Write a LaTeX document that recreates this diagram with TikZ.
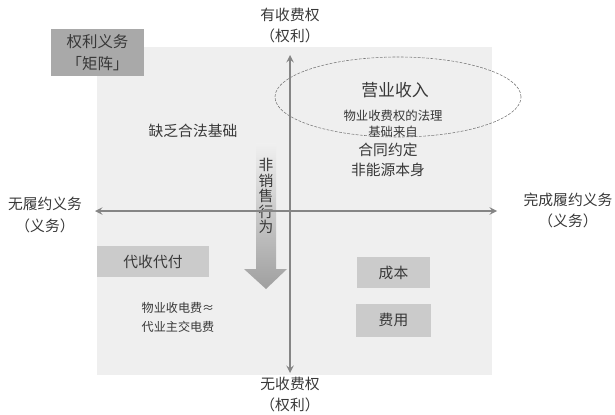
\documentclass[tikz,border=0pt]{standalone}
\usepackage{fontspec}
\newfontfamily\cjk{Noto Sans CJK SC}
\usetikzlibrary{arrows, shapes.geometric, positioning}
\definecolor{panelgray}{HTML}{EFEFEF}
\definecolor{axisgray}{HTML}{858585}
\definecolor{textgray}{HTML}{383838}
\definecolor{darkbox}{HTML}{A9A9A9}
\definecolor{lightbox}{HTML}{CBCBCB}

\begin{document}
\begin{tikzpicture}[x=0.025cm, y=-0.025cm,
    lbl/.style={font=\cjk\fontsize{10.5}{15}\selectfont, text=textgray, align=center, inner sep=0pt},
    small/.style={font=\cjk\fontsize{8.7}{11.5}\selectfont, text=textgray, align=center, inner sep=0pt},
    block/.style={rectangle, fill=lightbox, text=textgray, font=\cjk\fontsize{10.5}{15}\selectfont, align=center, inner sep=0pt},
    axis/.style={draw=axisgray, line width=1.3pt, <->, >=stealth}]
    \useasboundingbox (0,0) rectangle (615,414);
    \fill[panelgray] (97,47) rectangle (492,375);

    % direction arrow behind the vertical text
    \shade[top color=gray!12, bottom color=gray!75]
        (256,143) -- (276,143) -- (276,269) -- (287,269) -- (266,289) -- (244,269) -- (256,269) -- cycle;
    \node [lbl, font=\cjk\fontsize{10.5}{11}\selectfont] (nonsale) at (266,196) {非\\销\\售\\行\\为};

    \node [ellipse, draw=axisgray!90!black, dash pattern=on 2pt off 1pt, minimum width=6.15cm, minimum height=2cm] (revenue) at (398,97) {};

    % axes
    \coordinate (ytop) at (290,55);
    \coordinate (ybot) at (290,373);
    \coordinate (xleft) at (95,211);
    \coordinate (xright) at (497,211);
    \draw [axis] (ybot) -- (ytop);
    \draw [axis] (xleft) -- (xright);

    \node [lbl, above=0.3cm of ytop] (toplbl) {有收费权\\（权利）};
    \node [lbl, below=0.1cm of ybot] (botlbl) {无收费权\\（权利）};
    \node [lbl] (leftlbl) at (45,215) {无履约义务\\（义务）};
    \node [lbl] (rightlbl) at (568,210) {完成履约义务\\（义务）};

    \node [block, fill=darkbox, font=\cjk\fontsize{11}{15.5}\selectfont, minimum width=2.33cm, minimum height=1.18cm] (matrix) at (97.5,52.5) {权利义务\\「矩阵」};

    \node [lbl, font=\cjk\fontsize{12}{15}\selectfont] (income) at (395,90) {营业收入};
    \node [small, font=\cjk\fontsize{8.8}{11}\selectfont] (basis) at (393,124) {物业收费权的法理\\基础来自};
    \node [lbl, font=\cjk\fontsize{10.5}{14}\selectfont] (contract) at (388,160) {合同约定\\非能源本身};
    \node [lbl] (nolegal) at (193,131) {缺乏合法基础};

    \node [block, minimum width=2.78cm, minimum height=0.78cm] (agency) at (153,261.5) {代收代付};
    \node [small, font=\cjk\fontsize{8.6}{13.5}\selectfont] (power) at (178,317) {物业收电费≈\\代业主交电费};

    \node [block, minimum width=1.83cm, minimum height=0.78cm] (cost) at (393.5,272.5) {成本};
    \node [block, below=0.375cm of cost, minimum width=1.85cm, minimum height=0.83cm] (expense) {费用};
\end{tikzpicture}
\end{document}
